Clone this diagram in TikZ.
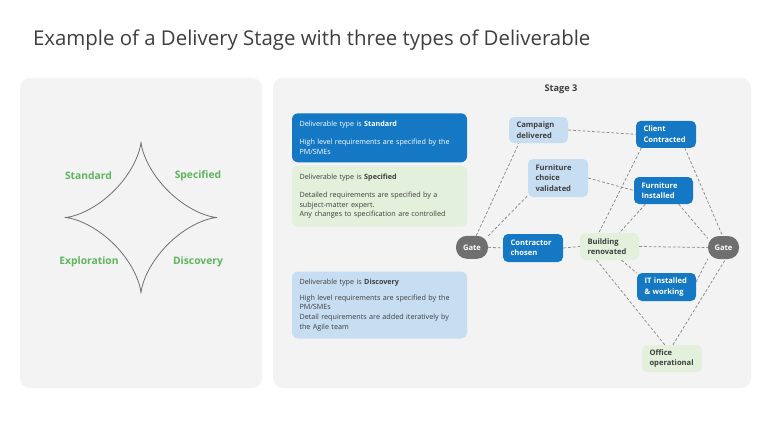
\documentclass[tikz,border=0pt]{standalone}
\usepackage{fontspec}
\setmainfont{Open Sans}
\definecolor{dblue}{HTML}{1478C4}
\definecolor{lblue}{HTML}{C7DDF1}
\definecolor{lgreen}{HTML}{E2F0DC}
\definecolor{panel}{HTML}{F3F3F3}
\definecolor{gatec}{HTML}{6F6F6F}
\definecolor{txt}{HTML}{3E3E3E}
\definecolor{grn}{HTML}{5DB55F}
\definecolor{linec}{HTML}{8A8A8A}
\begin{document}
\begin{tikzpicture}[x=1pt,y=-1pt,
  nd/.style={rounded corners=5pt, inner xsep=7.5pt, inner ysep=2pt, align=left,
    font=\fontsize{7.6}{10.4}\selectfont\bfseries},
  dk/.style={nd, fill=dblue, text=white},
  lt/.style={nd, fill=lblue, text=txt},
  lg/.style={nd, fill=lgreen, text=txt},
  gt/.style={fill=gatec, text=white, rounded corners=11pt, minimum width=32pt, minimum height=23pt,
    inner sep=0pt, font=\fontsize{7.6}{9}\selectfont\bfseries},
  infobox/.style={rounded corners=6pt, minimum width=175pt, text width=160pt, inner xsep=7.5pt,
    align=left, font=\fontsize{7.2}{9.7}\selectfont},
  conn/.style={draw=linec, line width=0.75pt, dash pattern=on 2.8pt off 2pt},
  lbl/.style={text=grn, font=\fontsize{10.3}{12}\selectfont\bfseries}
]
\useasboundingbox (0,0) rectangle (768,432);
\fill[white] (0,0) rectangle (768,432);

% title
\node[anchor=west, text=txt, font=\fontsize{20.4}{23}\selectfont] (title) at (29.5,40) {Example of a Delivery Stage with three types of Deliverable};

% panels
\fill[panel, rounded corners=10pt] (20,78) rectangle (262,388);
\fill[panel, rounded corners=10pt] (273,78) rectangle (751,388);

% astroid
\draw[gatec, line width=0.8pt] plot[domain=0:360, samples=240, smooth]
  ({141+76*cos(\x)*cos(\x)*cos(\x)}, {217.5+76*sin(\x)*sin(\x)*sin(\x)});
\node[lbl] (lstd) at (88.5,175.5) {Standard};
\node[lbl] (lspc) at (198,175.5) {Specified};
\node[lbl] (lexp) at (89,262) {Exploration};
\node[lbl] (ldis) at (198,262) {Discovery};

% stage title
\node[text=txt, font=\fontsize{9.2}{11}\selectfont\bfseries] (stage) at (561,89) {Stage 3};

% info boxes
\node[infobox, fill=dblue, text=white, minimum height=49pt] (bstd) at (379.5,137.8)
  {Deliverable type is \textbf{Standard}\\[8.5pt]
   High level requirements are specified by the\\PM/SMEs};
\node[infobox, fill=lgreen, text=txt, minimum height=61pt] (bspc) at (379.5,196.2)
  {Deliverable type is \textbf{Specified}\\[8.5pt]
   Detailed requirements are specified by a\\subject-matter expert.\\Any changes to specification are controlled};
\node[infobox, fill=lblue, text=txt, minimum height=67pt] (bdis) at (379.5,305)
  {Deliverable type is \textbf{Discovery}\\[6pt]
   High level requirements are specified by the\\PM/SMEs\\Detail requirements are added iteratively by\\the Agile team};

% network nodes
\node[lt, minimum width=59pt, minimum height=26pt, text width=44pt] (camp) at (538.5,130) {Campaign\\delivered};
\node[dk, minimum width=60pt, minimum height=27pt, text width=45pt] (client) at (666,134.3) {Client\\Contracted};
\node[lt, minimum width=60pt, minimum height=38pt, text width=45pt] (fc) at (558,178) {Furniture\\choice\\validated};
\node[dk, minimum width=59pt, minimum height=27pt, text width=44pt] (fi) at (663.5,190.5) {Furniture\\Installed};
\node[gt] (gateL) at (472,247.3) {Gate};
\node[dk, minimum width=60pt, minimum height=28pt, text width=45pt] (cc) at (533,248) {Contractor\\chosen};
\node[lg, minimum width=59pt, minimum height=27pt, text width=44pt] (br) at (609.5,246.5) {Building\\renovated};
\node[gt, minimum width=31pt] (gateR) at (723.5,247.5) {Gate};
\node[dk, minimum width=59pt, minimum height=28pt, text width=44pt] (it) at (666.5,287) {IT installed\\\& working};
\node[lg, minimum width=60pt, minimum height=27pt, text width=45pt] (off) at (672,358.5) {Office\\operational};

% connectors
\draw[conn] (camp.east) -- (client.west);
\draw[conn] (gateL.70) -- (camp.214);
\draw[conn] (gateL.35) -- (fc.210);
\draw[conn] (gateL.east) -- (cc.west);
\draw[conn] (cc.east) -- (br.west);
\draw[conn] (br.east) -- (gateR.west);
\draw[conn] (fc.east) -- (fi.west);
\draw[conn] (client.209) -- (br.128);
\draw[conn] (fi.217) -- (br.54);
\draw[conn] (client.324) -- (gateR.95);
\draw[conn] (fi.318) -- (gateR.150);
\draw[conn] (br.311) -- (it.155);
\draw[conn] (it.10) -- (gateR.216);
\draw[conn] (br.227) -- (off.118);
\draw[conn] (off.86) -- (gateR.280);
\end{tikzpicture}
\end{document}
